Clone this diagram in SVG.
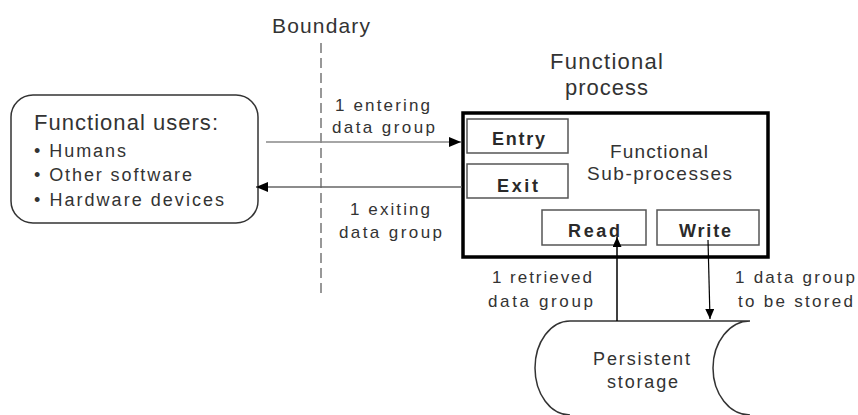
<svg xmlns="http://www.w3.org/2000/svg" width="858" height="415" viewBox="0 0 858 415">
<style>
text{font-family:"Liberation Sans",Arial,sans-serif;fill:#333;}
.lbl{font-size:17px;}
.big{font-size:22px;}
.sub{font-size:18px;}
.bold{font-size:18px;font-weight:bold;fill:#2a2a2a;}
.inner{fill:#fff;stroke:#555;stroke-width:1.5;}
</style>
<defs>
<marker id="ah" markerWidth="12" markerHeight="10" refX="12" refY="5" orient="auto" markerUnits="userSpaceOnUse">
<path d="M0,0 L12,5 L0,10 Z" fill="#000"/>
</marker>
<marker id="ah2" markerWidth="10" markerHeight="9" refX="10" refY="4.5" orient="auto" markerUnits="userSpaceOnUse">
<path d="M0,0 L10,4.5 L0,9 Z" fill="#000"/>
</marker>
</defs>

<g id="boundary">
<text x="272" y="33" font-size="21" textLength="98" lengthAdjust="spacing">Boundary</text>
<line x1="321" y1="43" x2="321" y2="298" stroke="#777" stroke-width="1.5" stroke-dasharray="10,5"/>
</g>

<g id="functional-users">
<rect x="11" y="95" width="247" height="128" rx="22" ry="22" fill="#fff" stroke="#333" stroke-width="1.5"/>
<text class="big" x="34" y="130" textLength="184" lengthAdjust="spacing">Functional users:</text>
<text class="sub" x="34" y="157" textLength="92" lengthAdjust="spacing">• Humans</text>
<text class="sub" x="34" y="181" textLength="158" lengthAdjust="spacing">• Other software</text>
<text class="sub" x="34" y="206" textLength="190" lengthAdjust="spacing">• Hardware devices</text>
</g>

<g id="functional-process">
<text x="550" y="69" font-size="22" textLength="113" lengthAdjust="spacing">Functional</text>
<text x="565" y="95" font-size="22" textLength="83" lengthAdjust="spacing">process</text>
<rect x="463" y="113" width="305" height="144" fill="#fff" stroke="#000" stroke-width="3.5"/>
<text x="610" y="158" font-size="19" textLength="98" lengthAdjust="spacing">Functional</text>
<text x="587" y="180" font-size="19" textLength="145" lengthAdjust="spacing">Sub-processes</text>
</g>

<g id="entry">
<rect class="inner" x="467" y="119" width="101" height="34"/>
<text class="bold" x="492" y="145" textLength="53" lengthAdjust="spacing">Entry</text>
</g>
<g id="exit">
<rect class="inner" x="467" y="164" width="101" height="34"/>
<text class="bold" x="497" y="192" textLength="41" lengthAdjust="spacing">Exit</text>
</g>
<g id="read">
<rect class="inner" x="542" y="210" width="104" height="35"/>
<text class="bold" x="568" y="237" textLength="52" lengthAdjust="spacing">Read</text>
</g>
<g id="write">
<rect class="inner" x="657" y="210" width="102" height="35"/>
<text class="bold" x="679" y="237" textLength="52" lengthAdjust="spacing">Write</text>
</g>

<g id="persistent-storage">
<path d="M570,321 L750,321 M570,321 A35,47 0 0 0 570,415 M750,321 A37,47 0 0 0 750,415" fill="none" stroke="#333" stroke-width="1.5"/>
<text x="593" y="365" font-size="18" textLength="97" lengthAdjust="spacing">Persistent</text>
<text x="607" y="388" font-size="18" textLength="71" lengthAdjust="spacing">storage</text>
</g>

<g id="connectors">
<line x1="266" y1="142" x2="461" y2="142" stroke="#888" stroke-width="1.5" marker-end="url(#ah)"/>
<line x1="462" y1="187" x2="256" y2="187" stroke="#666" stroke-width="1.5" marker-end="url(#ah)"/>
<line x1="617" y1="321" x2="617" y2="237" stroke="#000" stroke-width="1.5" marker-end="url(#ah2)"/>
<line x1="708" y1="240" x2="710" y2="319" stroke="#000" stroke-width="1.2" marker-end="url(#ah2)"/>
<text class="lbl" x="335" y="111" textLength="95" lengthAdjust="spacing">1 entering</text>
<text class="lbl" x="332" y="133" textLength="103" lengthAdjust="spacing">data group</text>
<text class="lbl" x="350" y="215" textLength="80" lengthAdjust="spacing">1 exiting</text>
<text class="lbl" x="339" y="238" textLength="103" lengthAdjust="spacing">data group</text>
<text class="lbl" x="492" y="283" textLength="100" lengthAdjust="spacing">1 retrieved</text>
<text class="lbl" x="488" y="307" textLength="105" lengthAdjust="spacing">data group</text>
<text class="lbl" x="735" y="283" textLength="120" lengthAdjust="spacing">1 data group</text>
<text class="lbl" x="738" y="307" textLength="115" lengthAdjust="spacing">to be stored</text>
</g>
</svg>
